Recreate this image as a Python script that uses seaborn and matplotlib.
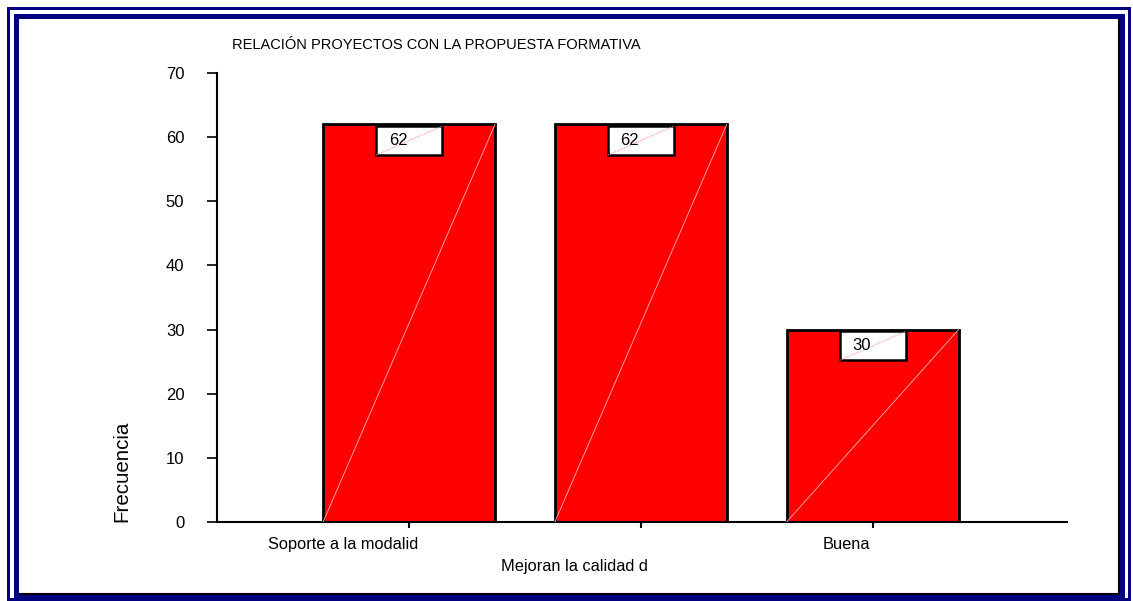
import matplotlib
matplotlib.use('Agg')
import matplotlib.pyplot as plt
import matplotlib.transforms as mtransforms
from matplotlib.patches import Rectangle
from matplotlib.lines import Line2D
import seaborn as sns
import pandas as pd

categories = ['Soporte a la modalid', 'Mejoran la calidad d', 'Buena']
tick_labels = ['Soporte a la modalid', '', 'Buena']
values = [62, 62, 30]
yticks = [0, 10, 20, 30, 40, 50, 60, 70]
title = 'RELACIÓN PROYECTOS CON LA PROPUESTA FORMATIVA'
xlabel = 'Mejoran la calidad d'
ylabel = 'Frecuencia'

sns.set_style('white')
plt.rcParams['font.family'] = ['Liberation Sans', 'DejaVu Sans']

W, H = 1133, 601
fig = plt.figure(figsize=(W / 100, H / 100), dpi=100)
fig.patch.set_facecolor('white')

def fx(px):
    return px / W

def fy(py):
    return 1 - py / H

ax = fig.add_axes([fx(217), fy(522), fx(1067) - fx(217), fy(73) - fy(522)])
df = pd.DataFrame({'cat': categories, 'val': values})
sns.barplot(data=df, x='cat', y='val', order=categories, color='#ff0000',
            saturation=1, edgecolor='black', linewidth=2, width=0.742, ax=ax)

ax.set_xlim(-0.829, 2.839)
ax.set_ylim(0, 70)
ax.set_yticks(yticks)
ax.set_yticklabels([str(v) for v in yticks])
ax.set_xlabel('')
ax.set_ylabel('')
for s in ['top', 'right']:
    ax.spines[s].set_visible(False)
for s in ['left', 'bottom']:
    ax.spines[s].set_color('black')
    ax.spines[s].set_linewidth(1.5)
ax.tick_params(axis='y', direction='out', length=7, width=1.2, pad=16.5,
               labelsize=12, colors='black', left=True)
ax.tick_params(axis='x', direction='out', length=4, width=1.5, pad=6.5,
               labelsize=11.8, colors='black', bottom=True)
ax.set_xticks(range(len(categories)))
ax.set_xticklabels(tick_labels)
offsets = [9, 0, -2]
for lab, off in zip(ax.get_xticklabels(), offsets):
    lab.set_ha('right')
    lab.set_transform(lab.get_transform() +
                      mtransforms.ScaledTranslation(off / 100, 0, fig.dpi_scale_trans))

# decorative diagonals and value boxes
for bar, v in zip(ax.patches, values):
    x0 = bar.get_x()
    w = bar.get_width()
    h = bar.get_height()
    ax.add_line(Line2D([x0, x0 + w], [0, h], color='#ffb3b3', lw=0.6, zorder=3))
    cx = x0 + w / 2
    bw = 0.285
    bh = 4.5
    top = h - 0.3
    rect = Rectangle((cx - bw / 2, top - bh), bw, bh, facecolor='white',
                     edgecolor='black', lw=1.8, zorder=4)
    ax.add_patch(rect)
    ax.add_line(Line2D([cx - bw / 2, cx + bw / 2], [top - bh, top], color='#ff9999',
                       lw=0.6, ls=(0, (2, 1)), zorder=5))
    ax.text(cx - 0.048, top - bh / 2, str(int(v)), ha='center', va='center',
            fontsize=12, color='black', zorder=6)

fig.text(fx(232), fy(45), title, ha='left', va='center', fontsize=10.5, color='black')
fig.text(fx(574), fy(566), xlabel, ha='center', va='center', fontsize=11.8, color='black')
fig.text(fx(122), fy(471), ylabel, ha='center', va='center', rotation=90,
         fontsize=14.8, color='black')

# frame
navy = '#000080'
def frame(x0, y0, x1, y1, lw, color):
    fig.patches.append(Rectangle((fx(x0), fy(y1)), fx(x1) - fx(x0), fy(y0) - fy(y1),
                                 transform=fig.transFigure, fill=False,
                                 edgecolor=color, lw=lw * 0.72, zorder=10))

frame(7.5, 7.5, 1128.5, 598.5, 3, navy)
frame(15.5, 15.5, 1121.5, 596.5, 5, navy)
fig.lines.append(Line2D([fx(1118.5), fx(1118.5)], [fy(19), fy(594)],
                        transform=fig.transFigure, color='black', lw=1.5))
fig.lines.append(Line2D([fx(19), fx(1118.5)], [fy(593.5), fy(593.5)],
                        transform=fig.transFigure, color='black', lw=1.5))

fig.savefig('out.png', dpi=100)
